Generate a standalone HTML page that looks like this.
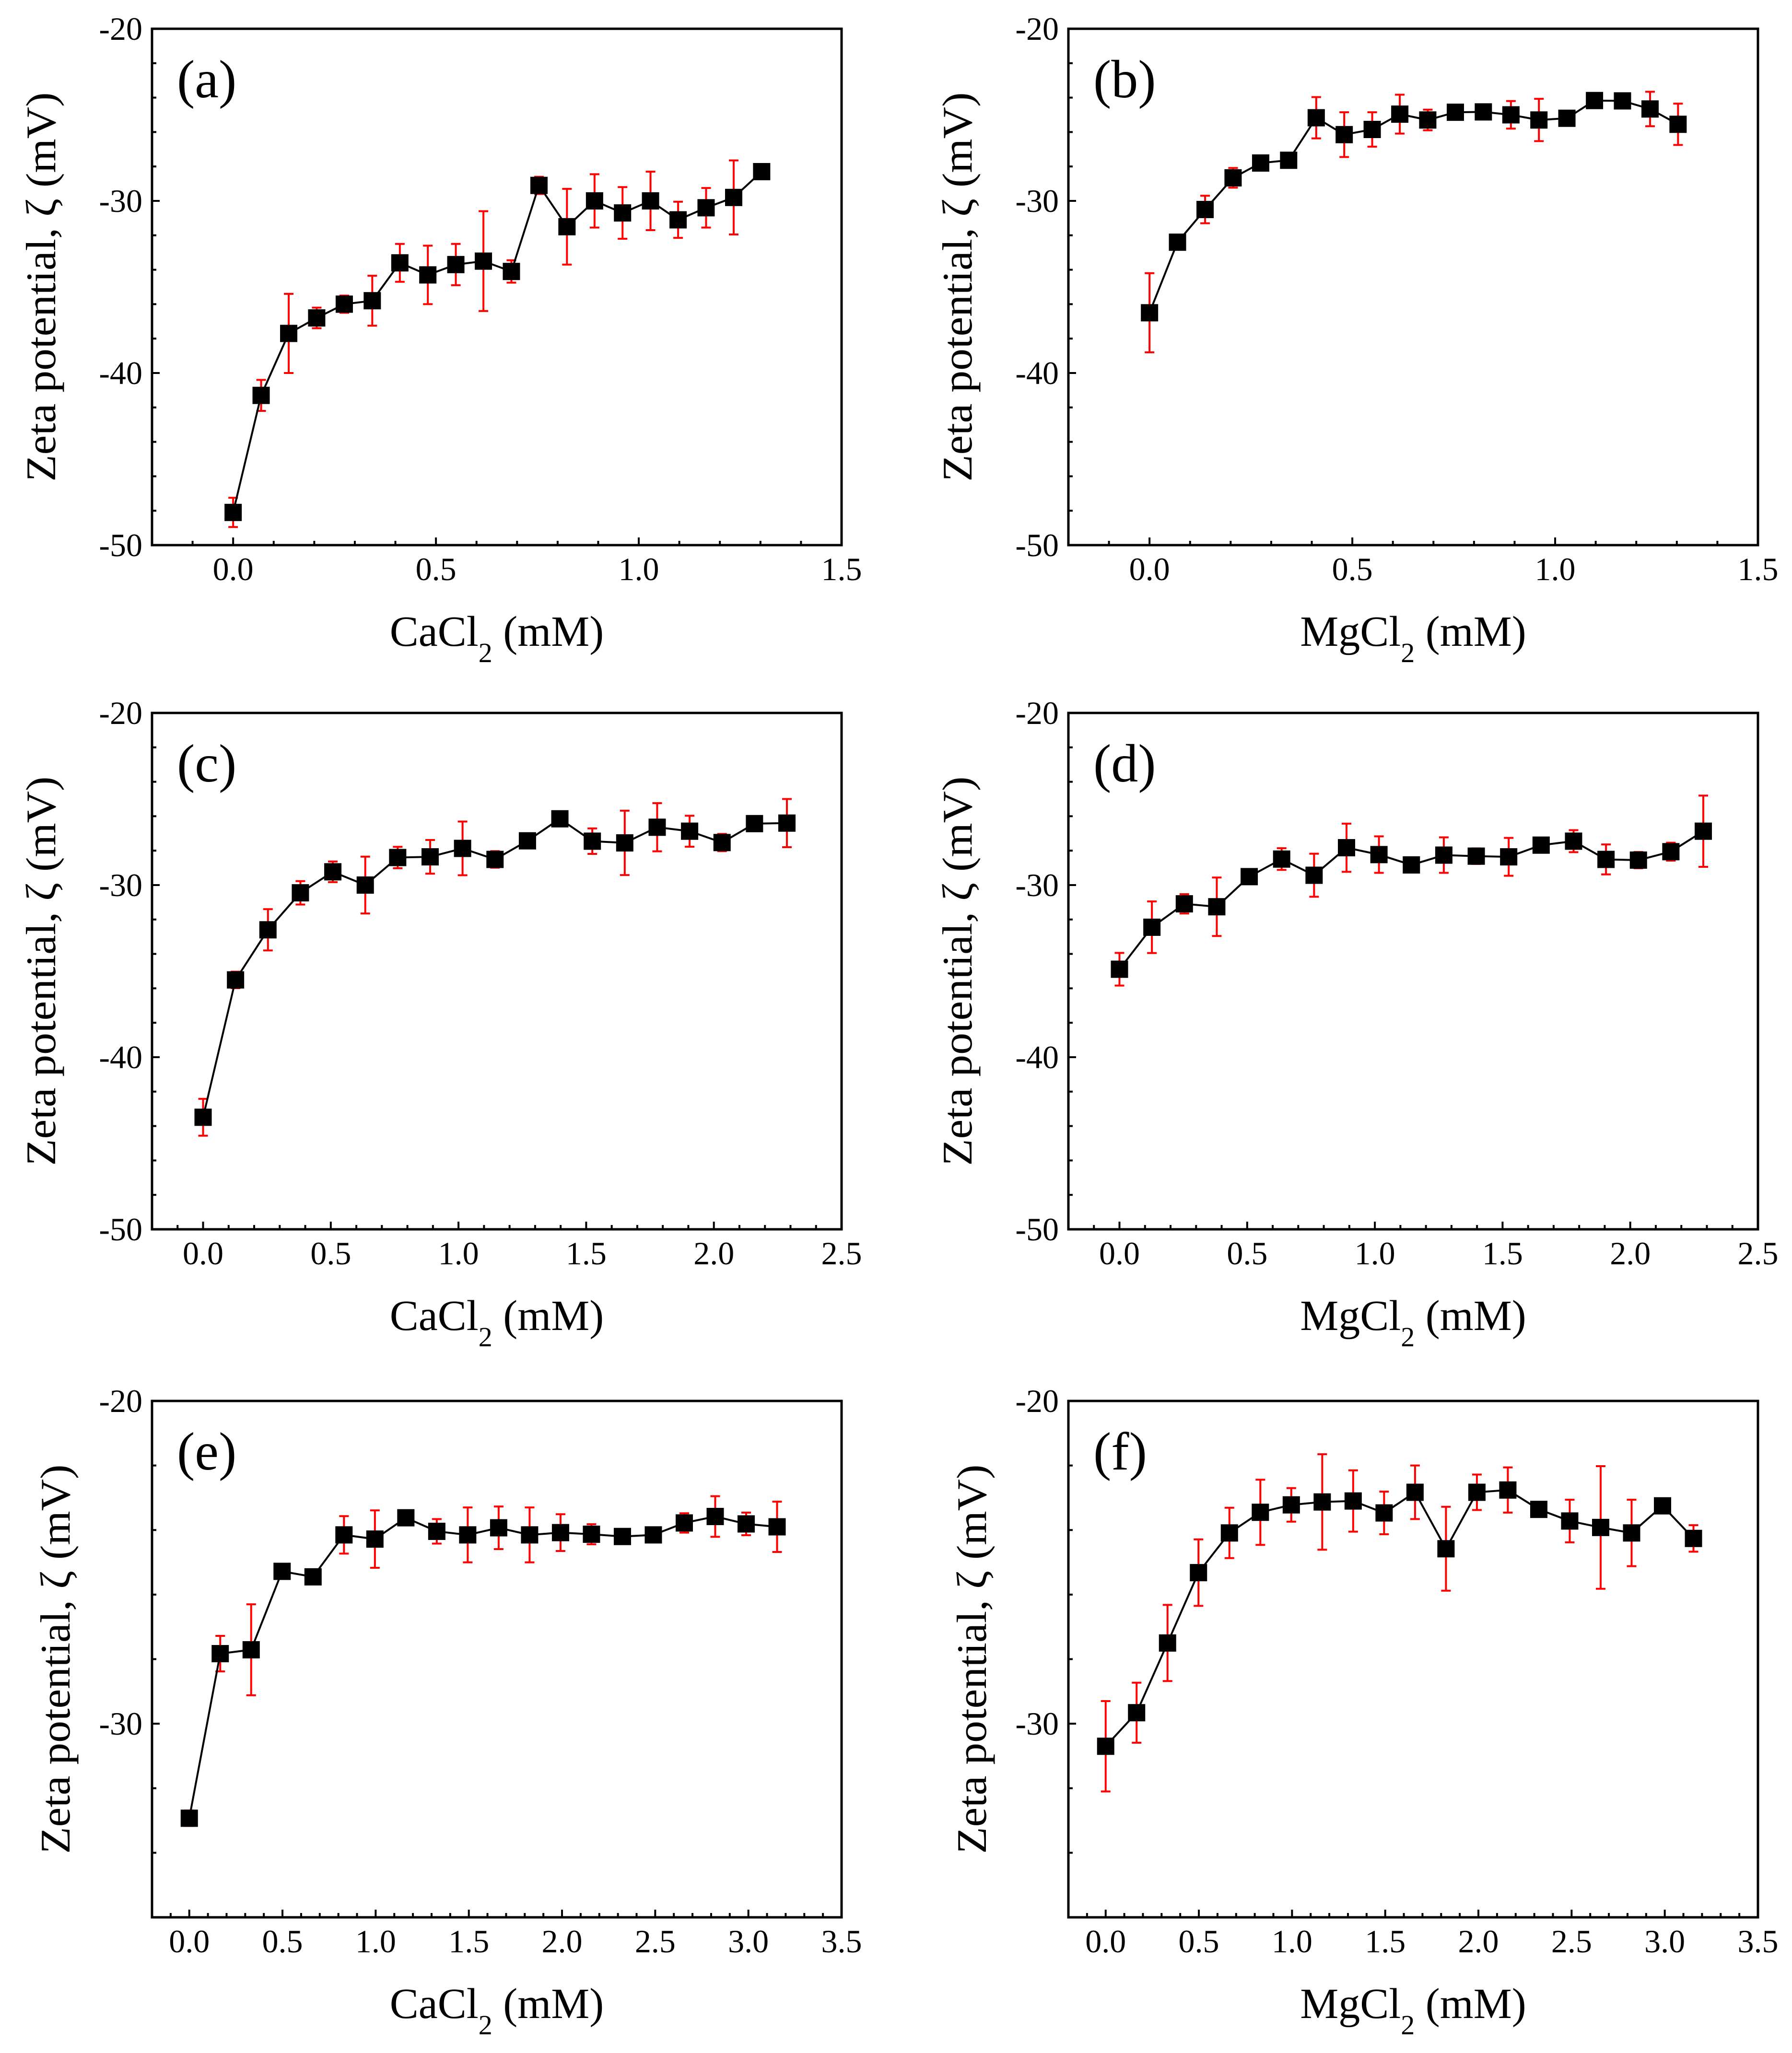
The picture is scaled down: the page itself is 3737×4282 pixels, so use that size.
<!DOCTYPE html>
<html><head><meta charset="utf-8"><style>
html,body{margin:0;padding:0;background:#fff;}
svg{display:block;}
text{font-family:"Liberation Serif","DejaVu Serif",serif;fill:#000;}
</style></head><body>
<svg id="fig" xmlns="http://www.w3.org/2000/svg" width="3737" height="4282" viewBox="0 0 3737 4282"></svg>
<script>
// ---- data ----
const xA = [0,0.069,0.137,0.206,0.274,0.343,0.411,0.48,0.549,0.617,0.686,0.754,0.823,0.891,0.96,1.029,1.097,1.166,1.234,1.303];
const yA = [-48.1,-41.3,-37.7,-36.8,-36.0,-35.8,-33.6,-34.3,-33.7,-33.5,-34.1,-29.1,-31.5,-30.0,-30.7,-30.0,-31.1,-30.4,-29.8,-28.3];
const eA = [0.85,0.9,2.3,0.6,0.5,1.45,1.1,1.7,1.2,2.9,0.65,0.5,2.2,1.55,1.5,1.7,1.05,1.15,2.15,0.35];
const xB = xA.slice();
const yB = [-36.5,-32.4,-30.5,-28.66,-27.8,-27.64,-25.17,-26.15,-25.85,-24.96,-25.3,-24.85,-24.83,-25.0,-25.3,-25.2,-24.17,-24.19,-24.66,-25.55];
const eB = [2.3,0.3,0.8,0.57,0.3,0.3,1.2,1.3,1.0,1.13,0.6,0.38,0.3,0.8,1.23,0.43,0.35,0.4,1.0,1.2];
const xC = [0,0.127,0.254,0.381,0.508,0.635,0.762,0.889,1.016,1.143,1.27,1.397,1.524,1.651,1.778,1.905,2.032,2.159,2.286];
const yC = [-43.49,-35.51,-32.6,-30.45,-29.23,-30.0,-28.4,-28.36,-27.87,-28.51,-27.43,-26.15,-27.45,-27.55,-26.64,-26.87,-27.53,-26.43,-26.4];
const eC = [1.07,0.48,1.2,0.68,0.6,1.65,0.62,0.98,1.56,0.48,0.3,0.4,0.74,1.87,1.4,0.9,0.5,0.4,1.4];
const xD = xC.slice();
const yD = [-34.89,-32.45,-31.09,-31.26,-29.51,-28.49,-29.43,-27.83,-28.23,-28.83,-28.26,-28.32,-28.36,-27.68,-27.45,-28.51,-28.55,-28.06,-26.87];
const eD = [0.95,1.5,0.56,1.7,0.2,0.63,1.25,1.4,1.06,0.3,1.03,0.45,1.1,0.35,0.64,0.87,0.47,0.52,2.07];
const xE = [0,0.166,0.332,0.498,0.664,0.83,0.996,1.162,1.328,1.494,1.66,1.826,1.992,2.158,2.324,2.49,2.656,2.822,2.988,3.154];
const yE = [-32.93,-27.83,-27.71,-25.28,-25.45,-24.15,-24.28,-23.62,-24.04,-24.15,-23.93,-24.15,-24.08,-24.13,-24.2,-24.15,-23.78,-23.58,-23.81,-23.9];
const eE = [0.24,0.55,1.41,0.18,0.17,0.58,0.89,0.17,0.38,0.85,0.66,0.85,0.57,0.31,0.18,0.2,0.3,0.63,0.35,0.78];
const xF = xE.slice();
const yF = [-30.7,-29.66,-27.5,-25.32,-24.09,-23.45,-23.22,-23.13,-23.1,-23.47,-22.83,-24.58,-22.83,-22.76,-23.36,-23.72,-23.92,-24.09,-23.25,-24.26];
const eF = [1.4,0.93,1.18,1.03,0.78,1.01,0.52,1.48,0.95,0.66,0.83,1.3,0.55,0.7,0.17,0.66,1.9,1.03,0.17,0.41];
const xTicksA = ["0.0","0.5","1.0","1.5"];
const xTicksC = ["0.0","0.5","1.0","1.5","2.0","2.5"];
const xTicksE = ["0.0","0.5","1.0","1.5","2.0","2.5","3.0","3.5"];
const yTicks1 = ["-20","-30","-40","-50"];
const yTicks3 = ["-20","-30"];

const NS = "http://www.w3.org/2000/svg";
const svg = document.getElementById('fig');
function mk(tag, attrs, parent){
  const e = document.createElementNS(NS, tag);
  for (const k in attrs) e.setAttribute(k, attrs[k]);
  (parent||svg).appendChild(e);
  return e;
}
const panels = [
  {id:'a', L:317, T:60, xs:xA, ys:yA, es:eA, xmax:1.5, ymin:-50, xt:xTicksA, yt:yTicks1, salt:'Ca', ytx:115},
  {id:'b', L:2228, T:60, xs:xB, ys:yB, es:eB, xmax:1.5, ymin:-50, xt:xTicksA, yt:yTicks1, salt:'Mg', ytx:2026},
  {id:'c', L:317, T:1487, xs:xC, ys:yC, es:eC, xmax:2.5, ymin:-50, xt:xTicksC, yt:yTicks1, salt:'Ca', ytx:115},
  {id:'d', L:2228, T:1487, xs:xD, ys:yD, es:eD, xmax:2.5, ymin:-50, xt:xTicksC, yt:yTicks1, salt:'Mg', ytx:2026},
  {id:'e', L:317, T:2922, xs:xE, ys:yE, es:eE, xmax:3.5, ymin:-36, xt:xTicksE, yt:yTicks3, salt:'Ca', ytx:145},
  {id:'f', L:2228, T:2922, xs:xF, ys:yF, es:eF, xmax:3.5, ymin:-36, xt:xTicksE, yt:yTicks3, salt:'Mg', ytx:2056}
];
const W = 1438, H = 1077, xmin = -0.2, ymax = -20;
panels.forEach(p => {
  const g = mk('g', {});
  
  
  const sx = v => p.L + (v - xmin) / (p.xmax - xmin) * W;
  const sy = v => p.T + (ymax - v) / (ymax - p.ymin) * H;
  const B = p.T + H;
  for (let k = 1; ; k++) {
    const v = xmin + k * 0.1;
    if (v > p.xmax - 0.05) break;
    const major = Math.abs(v * 2 - Math.round(v * 2)) < 1e-6;
    const t = mk('line', {x1:sx(v), x2:sx(v), y1:B, y2:B - (major ? 16 : 9), stroke:'#000', 'stroke-width':4}, g);
    
    
  }
  for (let v = p.ymin + 2; v < ymax - 0.5; v += 2) {
    const major = Math.abs(v % 10) < 1e-6;
    const t = mk('line', {x1:p.L, x2:p.L + (major ? 16 : 9), y1:sy(v), y2:sy(v), stroke:'#000', 'stroke-width':4}, g);
    
    
  }
  p.xt.forEach(s => {
    const t = mk('text', {x:sx(parseFloat(s)), y:B + 73, 'font-size':68, 'text-anchor':'middle'}, g);
    t.textContent = s;
    
    
  });
  p.yt.forEach(s => {
    const t = mk('text', {x:p.L - 20, y:sy(parseFloat(s)) + 23, 'font-size':68, 'text-anchor':'end'}, g);
    t.textContent = s;
    
    
  });
  const fr = mk('rect', {x:p.L, y:p.T, width:W, height:H, fill:'none', stroke:'#000', 'stroke-width':5}, g);
  
  
  p.xs.forEach((x, i) => {
    const cx = sx(x), y1 = sy(p.ys[i] + p.es[i]), y2 = sy(p.ys[i] - p.es[i]);
    const eg = mk('g', {stroke:'#f00', 'stroke-width':4}, g);
    
    
    mk('line', {x1:cx, x2:cx, y1:y1, y2:y2}, eg);
    mk('line', {x1:cx - 10, x2:cx + 10, y1:y1, y2:y1}, eg);
    mk('line', {x1:cx - 10, x2:cx + 10, y1:y2, y2:y2}, eg);
  });
  const pts = p.xs.map((x, i) => sx(x) + ',' + sy(p.ys[i])).join(' ');
  const ln = mk('polyline', {points:pts, fill:'none', stroke:'#000', 'stroke-width':4}, g);
  
  
  p.xs.forEach((x, i) => {
    const m = mk('rect', {x:sx(x) - 18, y:sy(p.ys[i]) - 18, width:36, height:36, fill:'#000'}, g);
    
    
  });
  const pl = mk('text', {x:p.L + 52, y:p.T + 143, 'font-size':112}, g);
  pl.textContent = '(' + p.id + ')';
  
  
  const xtl = mk('text', {x:p.L + W / 2, y:B + 210, 'font-size':90, 'text-anchor':'middle'}, g);
  
  
  xtl.appendChild(document.createTextNode(p.salt + 'Cl'));
  const sub = mk('tspan', {'font-size':58, dy:34}, xtl);
  sub.textContent = '2';
  const rest = mk('tspan', {dy:-34}, xtl);
  rest.textContent = ' (mM)';
  const cy = p.T + H / 2;
  const ytl = mk('text', {x:p.ytx, y:cy, 'font-size':88, 'text-anchor':'middle', transform:'rotate(-90 ' + p.ytx + ' ' + cy + ')', textLength:812, lengthAdjust:'spacingAndGlyphs'}, g);
  ytl.textContent = 'Zeta potential, \u03B6 (mV)';
  
  
});
</script>
</body></html>
